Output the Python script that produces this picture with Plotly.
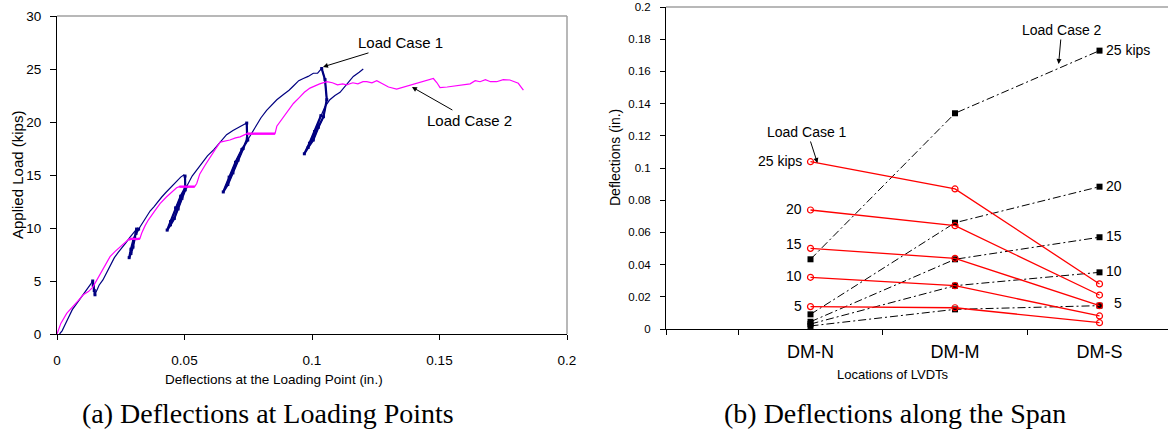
import plotly.graph_objects as go

W, H = 1168, 434

# ---------------- (a) data: applied load vs deflection at loading point ----------------
lc1_defl = [0.0010, 0.0020, 0.0030, 0.0045, 0.0060, 0.0075, 0.0090, 0.0105, 0.0120, 0.0132, 0.0140,
            0.0142, 0.0146, 0.0149,
            0.0152, 0.0165, 0.0180, 0.0195, 0.0210, 0.0225, 0.0240, 0.0255, 0.0270, 0.0285, 0.0300, 0.0312,
            0.0305, 0.0298, 0.0290, 0.0283,
            0.0290, 0.0300, 0.0310, 0.0320,
            0.0335, 0.0350, 0.0365, 0.0380, 0.0395, 0.0410, 0.0425, 0.0440, 0.0455, 0.0470, 0.0485, 0.0497, 0.0502,
            0.0503, 0.0490, 0.0475, 0.0460, 0.0445, 0.0432,
            0.0445, 0.0465, 0.0485, 0.0503, 0.0508,
            0.0530, 0.0560, 0.0590, 0.0615, 0.0640, 0.0665, 0.0690, 0.0715, 0.0735, 0.0744,
            0.0746, 0.0730, 0.0710, 0.0690, 0.0670, 0.0652,
            0.0675, 0.0700, 0.0725, 0.0748,
            0.0765, 0.0783, 0.0800, 0.0822, 0.0842, 0.0862, 0.0888, 0.0910, 0.0927, 0.0948, 0.0966, 0.0985,
            0.1005, 0.1022, 0.1038,
            0.1051, 0.1058, 0.1045, 0.1025, 0.1005, 0.0985, 0.0970,
            0.0990, 0.1010, 0.1035, 0.1050, 0.1070, 0.1090, 0.1110, 0.1136, 0.1162, 0.1185, 0.1201]
lc1_load = [0.0, 0.3, 0.8, 1.6, 2.3, 2.8, 3.3, 3.7, 4.3, 4.7, 5.0,
            4.6, 4.1, 3.7,
            3.9, 4.6, 5.1, 5.8, 6.5, 7.2, 7.7, 8.1, 8.6, 9.1, 9.6, 9.9,
            9.0, 8.2, 7.6, 7.2,
            8.0, 8.9, 9.5, 9.9,
            10.5, 11.0, 11.6, 12.0, 12.5, 12.9, 13.3, 13.7, 14.1, 14.4, 14.8, 15.0, 14.9,
            13.6, 12.8, 11.8, 10.9, 10.3, 9.8,
            10.6, 11.9, 13.0, 13.8, 13.9,
            14.9, 15.9, 16.8, 17.4, 18.1, 18.8, 19.2, 19.5, 19.8, 19.9,
            18.4, 17.5, 16.4, 15.2, 14.1, 13.4,
            14.8, 16.2, 17.4, 18.3,
            19.0, 19.6, 20.4, 21.1, 21.6, 22.1, 22.6, 23.0, 23.4, 23.9, 24.1, 24.3,
            24.6, 24.6, 25.05,
            24.0, 22.1, 20.5, 19.5, 18.3, 17.6, 17.0,
            18.0, 19.1, 20.6, 21.4, 22.1, 22.5, 22.8, 23.6, 24.3, 24.7, 25.0]
# index ranges of the densely sampled unload/reload branches (drawn heavier)
lc1_cycles = [(10, 14), (25, 34), (46, 58), (67, 78), (92, 103)]

lc2_defl = [0.0000, 0.0015, 0.0038, 0.0064, 0.0085, 0.0103, 0.0123, 0.0140, 0.0156, 0.0175, 0.0192,
            0.0208, 0.0228, 0.0247, 0.0265, 0.0280, 0.0295, 0.0312, 0.0325, 0.0332, 0.0345, 0.0358,
            0.0380, 0.0404, 0.0430, 0.0450, 0.0469, 0.0480, 0.0510, 0.0540, 0.0548, 0.0560, 0.0580,
            0.0600, 0.0620, 0.0640, 0.0660, 0.0678, 0.0700, 0.0718, 0.0745, 0.0780, 0.0820, 0.0855,
            0.0862, 0.0880, 0.0900, 0.0927, 0.0950, 0.0970, 0.0992, 0.1010, 0.1030, 0.1058, 0.1080,
            0.1100, 0.1120, 0.1136, 0.1160, 0.1180, 0.1200, 0.1215, 0.1235, 0.1254, 0.1275, 0.1300,
            0.1332, 0.1360, 0.1380, 0.1397, 0.1420, 0.1450, 0.1476, 0.1490, 0.1502, 0.1530, 0.1560,
            0.1593, 0.1620, 0.1640, 0.1659, 0.1680, 0.1700, 0.1724, 0.1750, 0.1776, 0.1795, 0.1809,
            0.1820, 0.1829]
lc2_load = [0.0, 1.0, 1.95, 2.7, 3.2, 3.7, 4.0, 4.4, 5.1, 5.8, 6.6,
            7.3, 7.8, 8.2, 8.6, 8.9, 9.0, 8.95, 9.0, 9.5, 10.2, 10.75,
            11.5, 12.3, 12.95, 13.4, 13.8, 13.9, 13.9, 13.9, 14.2, 15.1, 15.9,
            16.7, 17.4, 18.1, 18.2, 18.3, 18.5, 18.6, 18.9, 18.9, 18.9, 18.9,
            19.6, 20.2, 20.8, 21.75, 22.3, 22.8, 23.2, 23.4, 23.6, 23.8, 23.7,
            23.5, 23.6, 23.5, 23.7, 23.6, 23.8, 23.8, 23.7, 23.9, 23.6, 23.3,
            23.1, 23.3, 23.4, 23.5, 23.7, 23.9, 24.1, 23.7, 23.25, 23.3, 23.4,
            23.5, 23.6, 23.9, 23.8, 24.0, 23.8, 23.8, 24.0, 23.96, 23.8, 23.65,
            23.3, 23.0]
lc2_holds = [(15, 19), (27, 30), (40, 44)]

a_xticks = [0, 0.05, 0.1, 0.15, 0.2]
a_xticktext = ["0", "0.05", "0.1", "0.15", "0.2"]
a_yticks = [0, 5, 10, 15, 20, 25, 30]

# ---------------- (b) data: deflections along the span ----------------
locations = ["DM-N", "DM-M", "DM-S"]
loads_kips = [25, 20, 15, 10, 5]
case1_defl = {25: [0.1039, 0.0870, 0.0280],
              20: [0.0739, 0.0642, 0.0211],
              15: [0.0501, 0.0439, 0.0145],
              10: [0.0321, 0.0269, 0.0081],
              5:  [0.0139, 0.0132, 0.0039]}
case2_defl = {25: [0.0433, 0.1340, 0.1729],
              20: [0.0091, 0.0660, 0.0884],
              15: [0.0045, 0.0433, 0.0570],
              10: [0.0031, 0.0269, 0.0352],
              5:  [0.0019, 0.0122, 0.0145]}
b_yticks = [0, 0.02, 0.04, 0.06, 0.08, 0.1, 0.12, 0.14, 0.16, 0.18, 0.2]
b_yticktext = ["0", "0.02", "0.04", "0.06", "0.08", "0.1", "0.12", "0.14", "0.16", "0.18", "0.2"]

SANS = "Liberation Sans, Arial, sans-serif"
SERIF = "Liberation Serif, Times New Roman, serif"
NAVY = "#000080"
MAG = "#FF00FF"

fig = go.Figure()

# (a) curves
fig.add_trace(go.Scatter(x=lc1_defl, y=lc1_load, mode="lines",
                         line=dict(color=NAVY, width=1.2), xaxis="x", yaxis="y"))
for s, e in lc1_cycles:
    fig.add_trace(go.Scatter(x=lc1_defl[s:e], y=lc1_load[s:e], mode="lines+markers",
                             line=dict(color=NAVY, width=2.2),
                             marker=dict(symbol="square", size=3, color=NAVY),
                             xaxis="x", yaxis="y"))
fig.add_trace(go.Scatter(x=lc2_defl, y=lc2_load, mode="lines",
                         line=dict(color=MAG, width=1.2), xaxis="x", yaxis="y"))
for s, e in lc2_holds:
    fig.add_trace(go.Scatter(x=lc2_defl[s:e], y=lc2_load[s:e], mode="lines",
                             line=dict(color=MAG, width=2.4), xaxis="x", yaxis="y"))

# (b) curves
xpos = [1, 2, 3]
for p in loads_kips:
    fig.add_trace(go.Scatter(x=xpos, y=case2_defl[p], mode="lines+markers",
                             line=dict(color="black", width=1, dash="8px,3px,2px,3px"),
                             marker=dict(symbol="square", size=6, color="black"),
                             xaxis="x2", yaxis="y2"))
for p in loads_kips:
    fig.add_trace(go.Scatter(x=xpos, y=case1_defl[p], mode="lines+markers",
                             line=dict(color="#FF0000", width=1.3),
                             marker=dict(symbol="circle-open", size=6, color="#FF0000",
                                         line=dict(width=1.2)),
                             xaxis="x2", yaxis="y2"))

axis_common = dict(showgrid=False, zeroline=False, showline=True, linecolor="black",
                   linewidth=1, ticks="outside", tickcolor="black", tickwidth=1,
                   automargin=False,
                   tickfont=dict(family=SANS, size=13.5, color="black"))

fig.update_layout(
    width=W, height=H, margin=dict(l=0, r=0, t=0, b=0, pad=0),
    paper_bgcolor="white", plot_bgcolor="white", showlegend=False,
    xaxis=dict(axis_common, domain=[57 / W, 567 / W], range=[0, 0.2],
               tickmode="array", tickvals=a_xticks, ticktext=a_xticktext,
               ticklen=5, ticklabelstandoff=9, anchor="y"),
    yaxis=dict(axis_common, domain=[1 - 334 / H, 1 - 16 / H], range=[0, 30],
               tickmode="array", tickvals=a_yticks, ticklen=6,
               ticklabelstandoff=6, anchor="x"),
    xaxis2=dict(axis_common, domain=[666 / W, 1.0], range=[0, 3.474],
                tickmode="array", tickvals=xpos, ticktext=locations,
                tickcolor="rgba(0,0,0,0)", ticklen=5, ticklabelstandoff=1,
                tickfont=dict(family=SANS, size=18, color="black"),
                minor=dict(tickmode="array", tickvals=[0, 0.5, 1.5, 2.5],
                           ticks="outside", ticklen=5, tickcolor="black"),
                anchor="y2"),
    yaxis2=dict(axis_common, domain=[1 - 329 / H, 1 - 7 / H], range=[0, 0.2],
                tickmode="array", tickvals=b_yticks, ticktext=b_yticktext,
                tickfont=dict(family=SANS, size=11.5, color="black"),
                ticklen=5, ticklabelstandoff=7, anchor="x2"),
)

# gray frame lines (top/right) like the source
fig.add_shape(type="line", xref="x domain", yref="y domain", x0=0, x1=1, y0=1, y1=1,
              line=dict(color="#A0A0A0", width=1.5))
fig.add_shape(type="line", xref="x domain", yref="y domain", x0=1, x1=1, y0=0, y1=1,
              line=dict(color="#A0A0A0", width=1.5))
fig.add_shape(type="line", xref="x2 domain", yref="y2 domain", x0=0, x1=1, y0=1, y1=1,
              line=dict(color="#A0A0A0", width=1.5))

def paper_text(text, xp, yp, size, family=SANS, angle=0):
    return dict(text=text, x=xp / W, y=1 - yp / H, xref="paper", yref="paper",
                xanchor="center", yanchor="middle", showarrow=False, textangle=angle,
                font=dict(family=family, size=size, color="black"))

ann = []
# axis titles
ann.append(paper_text("Deflections at the Loading Point (in.)", 274, 379, 13.5))
ann.append(paper_text("Applied Load (kips)", 17, 175, 15, angle=-90))
ann.append(paper_text("Locations of LVDTs", 893, 374, 13))
ann.append(paper_text("Deflections (in.)", 615, 158, 14, angle=-90))
# captions
ann.append(paper_text("(a) Deflections at Loading Points", 268, 413, 28, family=SERIF))
ann.append(paper_text("(b) Deflections along the Span", 895, 413, 28, family=SERIF))

arrow = dict(showarrow=True, arrowhead=2, arrowsize=1, arrowwidth=1, arrowcolor="black")
# (a) callouts
ann.append(dict(arrow, text="Load Case 1", xref="x", yref="y", x=0.1043, y=25.2, ax=78, ay=-24,
                font=dict(family=SANS, size=15, color="black")))
ann.append(dict(arrow, text="Load Case 2", xref="x", yref="y", x=0.1392, y=23.3, ax=58, ay=33,
                font=dict(family=SANS, size=15, color="black")))
# (b) callouts
ann.append(dict(arrow, text="Load Case 1", xref="x2", yref="y2", x=1.048, y=0.1031, ax=-10, ay=-31,
                font=dict(family=SANS, size=14, color="black")))
ann.append(dict(arrow, text="Load Case 2", xref="x2", yref="y2", x=2.717, y=0.1646, ax=3, ay=-34,
                font=dict(family=SANS, size=14, color="black")))

# (b) load labels
for p in loads_kips:
    label = f"{p} kips" if p == 25 else str(p)
    ann.append(dict(text=label, xref="x2", yref="y2", x=1, y=case1_defl[p][0],
                    xanchor="right", yanchor="middle", xshift=-7,
                    yshift=(4 if p == 15 else 1), showarrow=False,
                    font=dict(family=SANS, size=14, color="black")))
    if p in (25, 20):
        ann.append(dict(text=label, xref="x2", yref="y2", x=3, y=case2_defl[p][2],
                        xanchor="left", yanchor="middle", xshift=4, yshift=1, showarrow=False,
                        font=dict(family=SANS, size=14, color="black")))
    else:
        ann.append(dict(text=label, xref="x2", yref="y2", x=3, y=case2_defl[p][2],
                        xanchor="right", yanchor="middle", xshift=24,
                        yshift=(1 if p != 5 else 3), showarrow=False,
                        font=dict(family=SANS, size=14, color="black")))

fig.update_layout(annotations=ann)
fig.write_html("out.html", config={"displayModeBar": False},
               post_script="document.body.style.margin='0';document.body.style.overflow='hidden';")
